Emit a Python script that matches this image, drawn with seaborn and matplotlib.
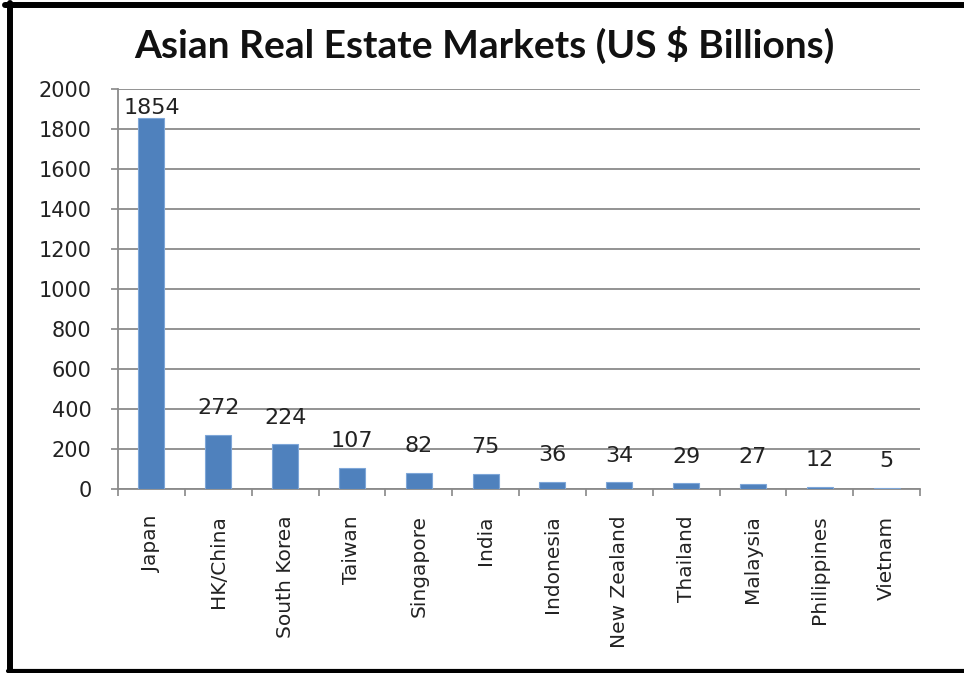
import numpy as np
import pandas as pd
import matplotlib
matplotlib.use("Agg")
import matplotlib.pyplot as plt
from matplotlib.lines import Line2D
import seaborn as sns

countries = ["Japan", "HK/China", "South Korea", "Taiwan", "Singapore", "India",
             "Indonesia", "New Zealand", "Thailand", "Malaysia", "Philippines", "Vietnam"]
market_size = [1854, 272, 224, 107, 82, 75, 36, 34, 29, 27, 12, 5]
y_ticks = [0, 200, 400, 600, 800, 1000, 1200, 1400, 1600, 1800, 2000]

sns.set_theme(style="white")
plt.rcParams["font.family"] = ["DejaVu Sans"]

df = pd.DataFrame({"country": countries, "value": market_size})

fig = plt.figure(figsize=(9.64, 6.73), dpi=100)
ax = fig.add_axes([0.1224, 0.2734, 0.832, 0.5944])

sns.barplot(data=df, x="country", y="value", color="#4F81BD", width=0.39,
            edgecolor="#7EA6D8", linewidth=0.8, saturation=1, ax=ax, zorder=3)

ax.set_ylim(0, 2000)
ax.set_xlim(-0.5, len(countries) - 0.5)
ax.set_yticks(y_ticks)
ax.set_yticklabels([str(t) for t in y_ticks], fontsize=15, color="#222222")

# category boundary ticks below the axis, labels at bar centres
ax.set_xticks(np.arange(-0.5, len(countries), 1.0))
ax.set_xticklabels([])
ax.set_xticks(np.arange(len(countries)), minor=True)
ax.set_xticklabels(countries, minor=True, rotation=90, fontsize=14.5,
                   color="#222222", va="top", ha="center")
ax.tick_params(axis="x", which="major", length=5, width=1.2, color="#888888",
               direction="out", bottom=True)
ax.tick_params(axis="x", which="minor", length=0, pad=19)
ax.tick_params(axis="y", length=5, width=1.2, color="#888888", direction="out",
               left=True, pad=14)
ax.set_xlabel("")
ax.set_ylabel("")

ax.yaxis.grid(True, color="#8a8a8a", linewidth=1.3, zorder=0)
ax.set_axisbelow(True)
for side in ["top", "right"]:
    ax.spines[side].set_visible(False)
for side in ["left", "bottom"]:
    ax.spines[side].set_color("#8a8a8a")
    ax.spines[side].set_linewidth(1.3)

# value labels above each bar; kept inside the plot area near the top
top = ax.get_ylim()[1]
for i, v in enumerate(market_size):
    if v + 170 > top:
        ax.annotate(str(v), (i, v), xytext=(0, 0), textcoords="offset points",
                    ha="center", va="bottom", fontsize=16, color="#222222")
    else:
        ax.annotate(str(v), (i, v), xytext=(0, 12), textcoords="offset points",
                    ha="center", va="bottom", fontsize=16, color="#222222")

fig.text(0.503, 0.933, "Asian Real Estate Markets (US $ Billions)",
         ha="center", va="center", fontsize=28, fontweight="bold",
         family=["Lato", "DejaVu Sans"], color="#111111")

# frame around the chart
W, H = 964, 673
fig.add_artist(Line2D([5 / W, 1.0], [1 - 5 / H, 1 - 5 / H], color="black",
                      linewidth=4.3, transform=fig.transFigure))
fig.add_artist(Line2D([10 / W, 10 / W], [1 - 3 / H, 2 / H], color="black",
                      linewidth=4.3, transform=fig.transFigure))
fig.add_artist(Line2D([8 / W, 1.0], [2 / H, 2 / H], color="black",
                      linewidth=3.0, transform=fig.transFigure))

fig.savefig("out.png", dpi=100, facecolor="white")
